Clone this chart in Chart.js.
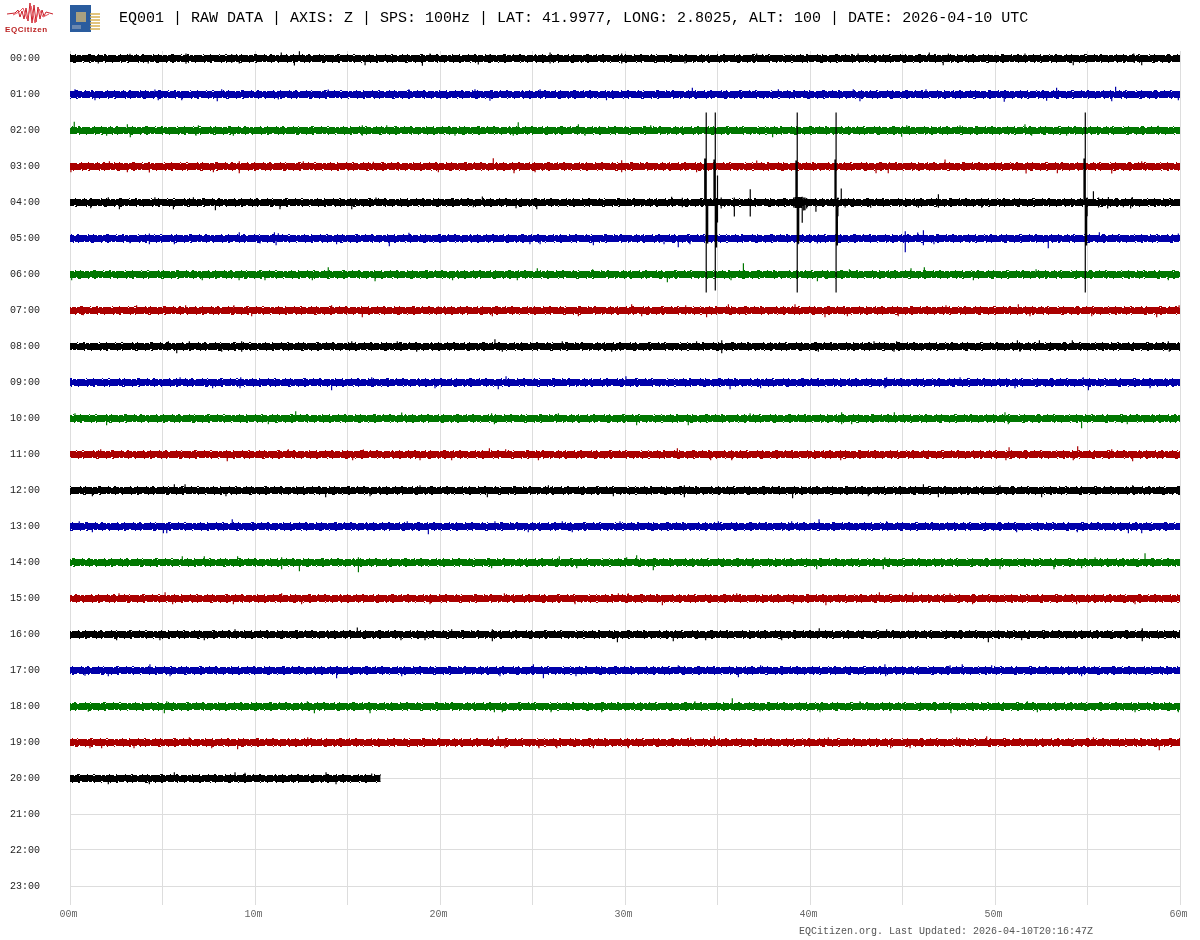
<!DOCTYPE html>
<html>
<head>
<meta charset="utf-8">
<title>EQ001 drum plot</title>
<script src="https://cdn.jsdelivr.net/npm/chart.js@4"></script>
<style>
    body { margin: 0; background: #fff; }
    #wrap { position: relative; width: 1200px; height: 940px; overflow: hidden; }
    canvas { position: absolute; left: 0; top: 0; }
    .txt { position: absolute; font-family: "Liberation Mono", monospace; white-space: pre; }
    #head { left: 119px; top: 10px; font-size: 15px; color: #000; }
    #foot { left: 799px; top: 926px; font-size: 10px; color: #555; }
    #brand { left: 5px; top: 25px; font: bold 8px "Liberation Sans", sans-serif; letter-spacing: .55px; color: #b22; }
    svg { position: absolute; }
</style>
</head>
<body>
<div id="wrap">
    <canvas id="drum" width="1200" height="941"></canvas>
    <svg style="left:5px;top:2px" width="50" height="24"><polyline fill="none" stroke="#c8202a" stroke-width="1" points="2,12 10,11 13,8 15,15 17,9 19,17 21,6 23,19 25,1 27,21 29,3 31,20 33,5 35,17 37,8 39,14 41,10 48,12"/><polyline fill="none" stroke="#e8505a" stroke-width="1" points="8,13 14,10 18,6 22,17 26,4 30,21 34,7 38,15 44,12"/></svg>
    <span class="txt" id="brand">EQCitizen</span>
    <svg style="left:70px;top:5px" width="31" height="28"><rect x="0" y="0" width="21" height="27" fill="#2a5c9e"/><rect x="6" y="7" width="10" height="10" fill="#a8a080"/><rect x="2" y="20" width="9" height="4" fill="#6a88b0"/><g stroke="#d8b050" stroke-width="1.5"><line x1="20" y1="9" x2="30" y2="9"/><line x1="20" y1="12" x2="30" y2="12"/><line x1="20" y1="15" x2="30" y2="15"/><line x1="20" y1="18" x2="30" y2="18"/><line x1="20" y1="21" x2="30" y2="21"/><line x1="20" y1="24" x2="30" y2="24"/></g></svg>
    <span class="txt" id="head">EQ001 | RAW DATA | AXIS: Z | SPS: 100Hz | LAT: 41.9977, LONG: 2.8025, ALT: 100 | DATE: 2026-04-10 UTC</span>
    <span class="txt" id="foot">EQCitizen.org. Last Updated: 2026-04-10T20:16:47Z</span>
</div>
<script>
const hourLabels = ["00:00","01:00","02:00","03:00","04:00","05:00","06:00","07:00","08:00","09:00","10:00","11:00",
    "12:00","13:00","14:00","15:00","16:00","17:00","18:00","19:00","20:00","21:00","22:00","23:00"];
const traceColors = ["#000000", "#0000aa", "#007700", "#aa0000"];
const traceEnd = [60,60,60,60,60,60,60,60,60,60,60,60,60,60,60,60,60,60,60,60,16.79];
// noise band half height of every hour, in amplitude units (36 units = one row)
const noiseBand = [2.5,2.5,2.5,2.5,2.5,2.5,2.5,2.5,2.5,2.5,2.5,2.5,2.5,2.5,2.5,2.5,2.5,2.5,2.5,2.5,2.5];

// excursions outside the band: [minute, up, down]
const hour00 = [[1.53,0,5],[3.24,4.7,0],[4.23,0,5],[6.27,5,5.3],[8.74,4.5,4.5],[9.15,0,5],[11.42,6,0],[12.13,0,7],[12.4,7.3,0],[15.95,0,6.7],[19.05,0,7.3],[19.46,5,0],[22.07,0,6],[22.7,4.3,0],[25.95,6,5],[29.82,5,5],[33.24,0,5],[37.12,5,0],[42.6,5,0],[46.45,6,0],[47.2,0,6.7],[47.48,5,0],[51.62,5,0],[54.23,0,6.7],[57.5,5,4],[57.93,0,6.7]];
const hour01 = [[0.27,5.3,0],[1.35,0,5.7],[4.59,5,0],[4.77,0,5.7],[6.04,0,5.7],[7.96,0,6.7],[8.2,5.3,0],[11.26,0,5],[13.96,5,0],[18.32,5.3,0],[21.89,5.3,0],[22.7,0,6.3],[25.41,5.3,0],[29,0,5.7],[33.64,6.7,0],[38.29,5.3,0],[42.34,5.3,0],[42.7,0,6.7],[46.27,5.3,0],[50.5,0,7.3],[52.79,0,6.3],[53.33,6.7,0],[56.31,0,6.7],[56.52,7.7,0],[59.91,0,5.7]];
const hour02 = [[0.23,8.7,0],[1.98,0,5.3],[3.1,6.3,0],[3.26,0,6.7],[6.81,0,5.3],[6.94,5.3,0],[8.83,0,5.3],[15.8,5.3,5.3],[17.12,5.3,0],[20.81,0,5.3],[24.23,8.3,0],[23.96,0,5.3],[27.48,6.3,0],[27.84,0,5.3],[31.39,5.3,0],[37.98,0,6.7],[44.95,0,6.3],[45.23,5.3,0],[48.11,5.3,0],[51.62,6.3,0],[51.98,0,5.3],[53.87,0,5.3],[58.83,4.7,0]];
const hour03 = [[0.05,0,5.7],[2.13,5.3,0],[3.1,0,5.7],[4.29,0,6],[7.75,0,5.7],[9.15,5.3,6.7],[12.61,5.3,0],[19.91,0,5.7],[16.4,4.7,0],[22.88,8.3,0],[24,0,6.7],[25.14,0,5.7],[29.82,6.3,5.7],[33.87,0,5.7],[37.12,6,0],[43.57,0,6.7],[44.23,0,6.7],[47.3,7,0],[51.68,0,7],[53.37,0,6.7],[56.31,0,7],[57.93,5.3,0]];
const hour04 = [[1.12,0,5.7],[2.07,5.3,0],[2.67,0,6.7],[4.59,5.3,0],[5.59,0,6.7],[6.67,5.3,0],[7.86,0,7.7],[11.35,0,6.7],[15.23,0,6.7],[16.54,5,0],[22.29,6,0],[21.8,0,4.7],[25.23,0,6.7],[24.11,0,5.7],[32.52,5.7,0],[33.1,4.7,4.7],[35.91,5,14],[36.77,13.3,14],
    [34.31,44,0],[34.36,44,0],[34.39,90,90],[34.43,0,41],[34.47,0,41],[34.81,43,0],[34.86,43,0],[34.88,90,88],[34.9,0,45],[34.95,0,45],[35,27,20],[35.2,5,6],
    [39.12,5,5],[39.2,5.5,5.5],[39.24,42,5.5],[39.29,42,5.5],[39.31,90,90],[39.35,5.5,41],[39.39,5.5,41],[39.45,5.5,5.5],[39.52,5.5,5.5],[39.58,5.7,20.3],[39.66,5,8],[39.73,5,7.7],[39.82,4.5,6],[40.32,0,9.3],
    [41.35,43,0],[41.39,43,0],[41.41,90,90],[41.43,0,43],[41.48,0,43],[41.51,5,13.7],[41.69,14,0],[41.9,4,5],[43.28,0,5.3],[45.86,0,5.3],[46.94,8.3,5.3],[49.28,0,5.3],
    [54.81,44,0],[54.86,44,0],[54.88,90,90],[54.9,0,43],[54.95,0,43],[54.98,5,13.7],[55.32,11.3,0],[55.6,5,5],[56.09,0,6],[56.13,5.5,0],[56.94,0,4.7],[57.33,0,6],[57.42,5.5,0]];
const hour05 = [[3.24,0,4.7],[4.29,5,5.7],[5.64,0,5.7],[9.15,6.3,0],[10.27,0,5],[11.05,6.3,0],[11.14,0,6.7],[11.26,5.3,0],[14.41,0,5.7],[17.26,0,7.7],[18.32,5.7,0],[24.86,0,5.7],[25.41,0,5.7],[28.29,0,6.7],[32.11,0,5.7],[32.88,0,8.7],[33.51,0,5.7],[39.37,0,5.7],[40.4,0,5],[45.15,7.3,13.7],[45.82,6,0],[46.13,8.3,6.7],[46.7,0,5.7],[52.88,0,9.7],[55.64,6.3,0],[59.91,5,0]];
const hour06 = [[0.09,0,5.7],[7.15,0,5.7],[9.14,0,5.7],[13.1,0,5.7],[13.96,7.3,0],[16.49,0,6.7],[10.54,0,5.7],[20.68,0,5.7],[25.26,6.3,0],[24.18,0,5.7],[28.25,5.3,0],[32.29,0,7.7],[36.4,11.3,0],[35.73,0,5.7],[40.4,0,6.7],[42.13,5.3,0],[45.46,6.3,0],[46.18,7.3,0],[48.83,0,5.7],[52.22,5.3,0],[59.37,0,5.7]];
const hour07 = [[3.6,5.3,0],[6.25,5.3,0],[8.86,5.3,0],[9.82,0,5.7],[14.14,5.3,0],[15.8,0,6.7],[0.72,0,4.7],[19.91,4.3,0],[22.83,0,5.7],[30.36,6.3,0],[30.9,0,5.7],[34.41,0,6.7],[35.59,6.3,0],[33.28,5.3,0],[27.48,0,5.7],[39.19,6.3,0],[40.81,0,6.7],[42.02,0,5.7],[44.77,0,5.7],[47.35,5.3,0],[51.26,6.3,0],[51.89,0,5.7],[55.23,0,5.7],[58.74,0,6.7],[59.95,5.3,0]];
const hour08 = [[5.77,0,6.7],[5.32,5.3,0],[6.45,5.3,0],[9.28,5.3,5.3],[8.2,0,5.3],[15.23,5.3,0],[17.69,5.3,0],[18.74,0,5.3],[22.97,7.3,0],[23.37,0,5.3],[26.61,5.3,0],[29.28,0,5.3],[35.23,6.3,6.7],[33.87,5.3,0],[40.45,0,5.3],[43.46,5.3,0],[44.54,0,5.3],[44.68,5.3,0],[51.21,6.3,0],[51.35,0,5.3],[52.4,6.3,0],[54.18,6.3,0],[59.42,0,5.3],[59.37,5.3,0]];
const hour09 = [[7.71,0,5.7],[9.19,0,5.7],[14.14,0,7.7],[5.95,5.3,0],[9.23,5.3,0],[16.31,5.3,0],[19.73,0,5.7],[23.15,0,6.7],[23.57,6.3,0],[30.05,6.3,0],[35.68,0,6.7],[37.33,0,5.7],[44.05,0,5.7],[44.14,5.3,0],[48.11,5.3,0],[51.08,0,5.7],[55.05,0,7.7],[54.77,5.3,0],[58.38,0,5.7]];
const hour10 = [[1.98,0,6.7],[12.2,7.3,0],[17.93,6,0],[10.72,0,5.7],[0.27,5.3,0],[22.79,5.3,0],[22.94,0,5.7],[26.4,5.3,0],[30.63,0,6.7],[33.42,0,6.7],[36.76,5.3,0],[41.71,6.3,5.7],[42.25,0,5.7],[44.56,6.3,0],[50.54,6.3,0],[50.72,0,5.7],[54.68,0,9.7],[57.15,0,5.7]];
const hour11 = [[1.66,5.3,0],[8.5,0,6.7],[11.8,5.3,0],[15.28,0,5.7],[18.92,0,5.7],[15.86,5,0],[22.67,6.3,0],[20.63,0,5.7],[25.32,0,5.7],[32.83,6.3,0],[34.63,0,5.7],[35.77,0,5.7],[23.55,5.3,0],[41.66,0,5.7],[50.76,7.3,0],[50.59,0,5.7],[54.47,8.3,0],[54.23,0,5.7],[57.44,0,6.7],[56.31,5.3,0]];
const hour12 = [[5.64,6.3,0],[6.22,6.3,0],[13.82,0,6.7],[1.21,0,5.7],[8.43,0,5.7],[16.22,0,5.7],[18.92,5.3,0],[22.56,0,6.7],[25.86,5.3,0],[29.37,0,5.7],[33.21,5.3,6.7],[39.06,0,7.7],[46.13,6.3,0],[46.94,0,6.7],[52.52,0,6.7],[43.15,0,5.7],[50.27,5.3,0],[57.44,5.3,0]];
const hour13 = [[8.77,7.3,0],[5.05,0,6.7],[5.23,0,6.7],[19.37,0,7.7],[0.5,5.3,0],[1.21,0,5.7],[18.23,5.3,0],[22.97,5.3,0],[24.77,0,5.7],[26.61,5.3,0],[29.73,5.3,0],[35.05,5.3,0],[39.01,5.3,0],[27.15,0,5.7],[40.49,7.3,0],[57.21,0,6.7],[57.93,0,6.7],[51.17,0,5.7],[44.14,5.3,0],[54.45,0,5.7]];
const hour14 = [[6.07,6.3,0],[7.26,6.3,0],[9.06,6.3,0],[11.44,5.3,6.7],[12.4,0,8.7],[15.59,5.3,9.7],[26.45,6.3,0],[30.09,5.3,0],[30.63,7.3,0],[31.53,0,7.7],[22.79,0,5.7],[27.39,0,5.7],[36.88,0,5.7],[40.36,0,6.7],[43.96,0,6.7],[50.27,0,6.7],[53.19,0,6.7],[58.11,9.3,0],[55.41,5.3,0],[54.68,0,5.7],[44.05,5.3,0]];
const hour15 = [[2.65,5.3,0],[5.14,6.3,0],[5.55,0,5.7],[8.83,0,5.7],[12.52,0,5.7],[19.46,0,5.7],[11.44,5.3,0],[23.48,5.3,0],[29.64,5.3,0],[30.18,5.3,0],[27.3,0,5.7],[32.02,0,6.7],[36.04,5.3,0],[39.1,0,5.7],[40.86,0,6.7],[43.75,6.3,0],[45.55,6.3,0],[48.79,0,5.7],[54.41,0,5.7],[57.57,0,5.7],[47.57,5.3,0]];
const hour16 = [[15.53,7,0],[4.86,0,5.7],[7.26,0,5.7],[2.52,0,5.7],[8.92,5.3,0],[17.89,0,5.7],[19.19,0,5.7],[22.83,5.3,6.7],[29.59,0,7.7],[32.61,0,6.7],[34.36,0,5.7],[38.47,0,5.7],[20.63,5.3,0],[40.5,6.3,0],[49.64,0,7.7],[57.96,6.3,6.7],[51.44,0,5.7],[44.14,5.3,0]];
const hour17 = [[4.32,6.3,0],[14.41,0,7.7],[0.81,0,5.3],[2.07,0,5.7],[5.41,0,5.7],[17.93,0,5.7],[25.05,6.3,0],[25.59,0,7.7],[32.88,5.3,0],[36.13,0,6.7],[23.24,0,5.7],[27.35,0,5.7],[37.33,5.3,0],[44.05,6.3,0],[44.09,0,5.7],[48.23,6.3,0],[49.82,5.3,0],[47.57,5.3,0],[54.68,0,5.7]];
const hour18 = [[13.21,0,6.7],[5.1,0,6.7],[0.99,0,5.3],[16.22,0,6.7],[12.83,5.3,0],[5.23,5.3,0],[35.8,8.3,0],[22.94,0,5.7],[23.37,0,5.7],[28.74,0,5.7],[26,0,5.7],[37.3,0,4.7],[33.78,5.3,0],[47.62,0,6.7],[51.75,5.3,0],[40.54,0,5.7],[42.7,5.3,0],[57.57,0,5.7],[52.29,0,5.7],[59.91,0,5.7]];
const hour19 = [[9.06,0,6.7],[1.08,0,5.7],[1.71,0,5.7],[6.45,5.3,0],[12.85,5.3,0],[7.66,0,5.7],[3.46,0,5.7],[23.15,6.3,0],[34.83,6.3,0],[23.51,0,5.7],[25.35,0,5.7],[26.31,0,5.7],[30.18,0,5.7],[28.29,0,5.7],[33.55,5.3,0],[49.55,6.3,0],[58.88,0,7.7],[44.36,0,5.7],[45.41,0,5.7],[40.99,5.3,0],[47.93,5.3,0],[55.32,5.3,0]];
const hour20 = [[5.64,6.3,0],[8.92,6.3,0],[9.46,5.7,0],[13.84,6.3,0],[14.38,0,5.7],[4.29,0,5.7],[16.31,5,0],[2.07,0,5.7]];

const hourPeaks = [hour00,hour01,hour02,hour03,hour04,hour05,hour06,hour07,hour08,hour09,hour10,
    hour11,hour12,hour13,hour14,hour15,hour16,hour17,hour18,hour19,hour20];
const ampPerRow = 36;

// the body edge is not smooth, these dash styles break it up into a rough comb
const innerComb = [9,1,4,1,13,2,6,1,3,1,8,2,15,1,5,2,11,1];
const outerComb = [1,5,2,9,1,4,1,12,3,7,1,5,2,14,1,6,1,8];

function buildDatasets() {
    var sets = [];
    hourPeaks.forEach(function (peaks, row) {
        var color = traceColors[row % 4];
        var noise = noiseBand[row];
        var centre = row + 0.5 / ampPerRow;
        var core = noise / ampPerRow;
        // solid body of the trace
        sets.push({
            data: [{ x: 0, y: centre - core }, { x: traceEnd[row], y: centre - core }],
            showLine: true, pointRadius: 0, borderWidth: 0,
            fill: { target: { value: centre + core }, above: color, below: color },
            order: 5
        });
        // rough edges of the body, on both sides
        [[-0.5, innerComb, 3], [0.5, innerComb, 11], [-1.5, outerComb, 7], [1.5, outerComb, 17]].forEach(function (c, i) {
            var y = centre + (c[0] < 0 ? -1 : 1) * (noise + Math.abs(c[0])) / ampPerRow;
            sets.push({
                data: [{ x: 0, y: y }, { x: traceEnd[row], y: y }],
                showLine: true, pointRadius: 0, borderColor: color, borderWidth: 1,
                borderDash: c[1], borderDashOffset: c[2] + row * 13 + i * 5,
                order: 4
            });
        });
        // single strokes that stick out of the body
        var strokes = [];
        peaks.forEach(function (p) {
            strokes.push({ x: p[0], y: centre - p[1] / ampPerRow });
            strokes.push({ x: p[0], y: centre + p[2] / ampPerRow });
            strokes.push({ x: p[0], y: null });
        });
        sets.push({
            data: strokes, showLine: true, pointRadius: 0,
            borderColor: color, borderWidth: 1.2, spanGaps: false,
            order: row == 4 ? 0 : 3
        });
    });
    return sets;
}

const ctx = document.getElementById('drum').getContext('2d');
new Chart(ctx, {
    type: 'scatter',
    data: { datasets: buildDatasets() },
    options: {
        responsive: false,
        animation: false,
        devicePixelRatio: 1,
        layout: { padding: { top: 51, right: 20, left: 0, bottom: 0 } },
        plugins: { legend: { display: false }, tooltip: { enabled: false } },
        scales: {
            x: {
                type: 'linear', min: 0, max: 60,
                afterFit: function (scale) { scale.height = 30; },
                border: { display: false },
                grid: { color: '#dddddd', lineWidth: 1, drawTicks: false },
                ticks: {
                    stepSize: 5, autoSkip: false, maxRotation: 0, padding: 3, labelOffset: -1.5, color: '#666666',
                    font: { family: 'Liberation Mono', size: 10 },
                    callback: function (v) { return v % 10 == 0 ? String(v).padStart(2, '0') + 'm' : ''; }
                }
            },
            y: {
                type: 'linear', reverse: true, min: -7 / 36, max: 847 / 36,
                afterFit: function (scale) { scale.width = 70; },
                border: { display: false },
                grid: { color: '#dddddd', lineWidth: 1, drawTicks: false },
                ticks: {
                    stepSize: 1, includeBounds: false, autoSkip: false, padding: 30, color: '#222222',
                    font: { family: 'Liberation Mono', size: 10 },
                    callback: function (v) { return hourLabels[v]; }
                }
            }
        }
    }
});
</script>
</body>
</html>
